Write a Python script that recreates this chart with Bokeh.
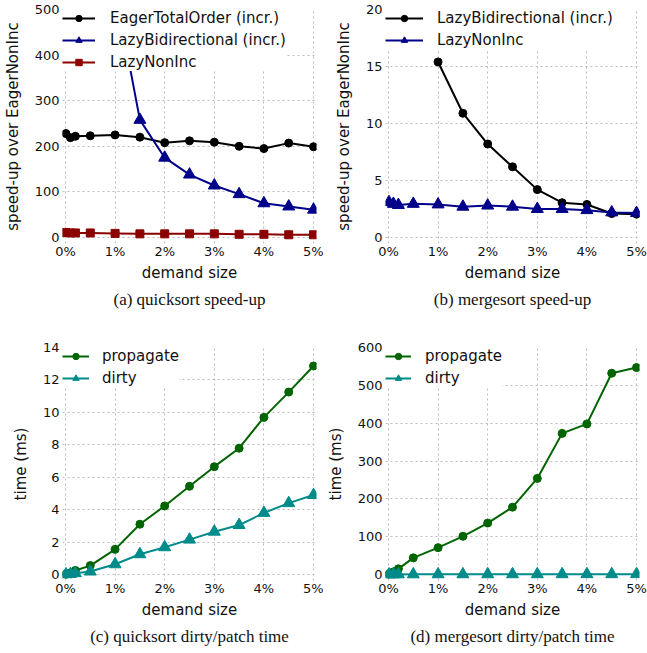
from bokeh.plotting import figure
from bokeh.layouts import gridplot
from bokeh.models import Range1d, FixedTicker, PrintfTickFormatter, Legend, LegendItem, Title
from bokeh.embed import file_html
from bokeh.resources import INLINE

# ---------------- data ----------------
demand_pct = [0.01, 0.1, 0.2, 0.5, 1, 1.5, 2, 2.5, 3, 3.5, 4, 4.5, 5]
demand_pct_from1 = [1, 1.5, 2, 2.5, 3, 3.5, 4, 4.5, 5]

# (a) quicksort speed-up
qs_eager_total_order = [228, 219, 222, 223, 225, 220, 208, 212, 209, 200, 195, 207, 199]
qs_lazy_bidirectional = [545, 258, 175, 138, 114, 95, 75, 68, 61]
qs_lazy_noninc = [11, 10, 10, 10, 9, 8, 8, 8, 8, 7, 7, 6, 6]

# (b) mergesort speed-up
ms_lazy_bidirectional = [15.4, 10.9, 8.2, 6.2, 4.2, 3.05, 2.9, 2.1, 2.05]
ms_lazy_noninc = [3.1, 2.95, 2.85, 2.95, 2.9, 2.7, 2.8, 2.7, 2.5, 2.5, 2.4, 2.2, 2.15]

# (c) quicksort dirty/patch time (ms)
qs_propagate = [0.02, 0.1, 0.25, 0.55, 1.55, 3.1, 4.23, 5.44, 6.65, 7.79, 9.69, 11.25, 12.86]
qs_dirty = [0.01, 0.03, 0.08, 0.18, 0.63, 1.25, 1.68, 2.15, 2.64, 3.05, 3.8, 4.4, 4.9]

# (d) mergesort dirty/patch time (ms)
ms_propagate = [1, 7, 15, 44, 71, 101, 136, 178, 254, 373, 398, 532, 547]
ms_dirty = [0.2, 0.3, 0.3, 0.4, 0.5, 0.5, 0.6, 0.6, 0.7, 0.7, 0.8, 0.8, 0.9]

x_ticks = [0, 1, 2, 3, 4, 5]
captions = ["(a) quicksort speed-up", "(b) mergesort speed-up",
            "(c) quicksort dirty/patch time", "(d) mergesort dirty/patch time"]

SANS = "DejaVu Sans"
SERIF = "Liberation Serif"
BLACK = "#000000"
BLUE = "#00008b"
RED = "#8b0000"
GREEN = "#006400"
TEAL = "#008b8b"

XPAD = 0.06
BOTTOM_PAD_PX = 6
TOP = 9


def make_panel(width, height, left, frame_w, bottom, ymax, yticks, ylabel, caption):
    frame_h = height - TOP - bottom
    ypad = ymax * BOTTOM_PAD_PX / (frame_h - BOTTOM_PAD_PX)
    right = width - left - frame_w
    p = figure(width=width, height=height, output_backend="svg", toolbar_location=None,
               x_range=Range1d(-XPAD, 5 + XPAD), y_range=Range1d(-ypad, ymax),
               min_border_left=left, min_border_right=right, min_border_top=TOP,
               min_border_bottom=bottom)
    p.outline_line_color = None
    p.background_fill_color = "white"
    for ax in (p.xaxis[0], p.yaxis[0]):
        ax.axis_line_color = None
        ax.major_tick_line_color = None
        ax.minor_tick_line_color = None
        ax.major_tick_in = 0
        ax.major_tick_out = 0
        ax.minor_tick_in = 0
        ax.minor_tick_out = 0
        ax.major_label_text_font = SANS
        ax.major_label_text_font_size = "13px"
        ax.major_label_text_color = "#111111"
        ax.axis_label_text_font = SANS
        ax.axis_label_text_font_size = "15px"
        ax.axis_label_text_font_style = "normal"
        ax.axis_label_text_color = "#111111"
    p.xaxis.ticker = FixedTicker(ticks=x_ticks)
    p.xaxis.formatter = PrintfTickFormatter(format="%d%%")
    p.xaxis.axis_label = "demand size"
    p.xaxis.major_label_standoff = 0
    p.xaxis.axis_label_standoff = 2
    p.yaxis.ticker = FixedTicker(ticks=yticks)
    p.yaxis.axis_label = ylabel
    p.yaxis.major_label_standoff = 3
    p.yaxis.axis_label_standoff = 10
    p.xgrid.ticker = FixedTicker(ticks=x_ticks)
    p.ygrid.ticker = FixedTicker(ticks=yticks)
    for g in (p.xgrid[0], p.ygrid[0]):
        g.grid_line_color = "#bbbbbb"
        g.grid_line_dash = "2 3"
        g.grid_line_width = 1
    t = Title(text=caption, align="center", text_font=SERIF, text_font_size="17px",
              text_font_style="normal", text_color="#111111", standoff=7)
    p.add_layout(t, "below")
    return p


def series(p, x, y, color, marker, size, label, items):
    l = p.line(x, y, line_color=color, line_width=2)
    s = p.scatter(x, y, marker=marker, size=size, fill_color=color, line_color=color)
    items.append(LegendItem(label=label, renderers=[l, s]))


def add_legend(p, items, padding, glyph_w, standoff):
    lg = Legend(items=items, location="top_left", border_line_color=None,
                background_fill_color="#ffffff", background_fill_alpha=1.0,
                label_text_font=SANS, label_text_font_size="15px",
                label_text_color="#111111",
                glyph_width=glyph_w, glyph_height=16, label_height=16,
                label_standoff=standoff, spacing=4, padding=padding, margin=0)
    p.add_layout(lg)


H1, H2 = 338, 312
W1, W2 = 323, 324

pa = make_panel(W1, H1, 60, 256, 95, 500, [0, 100, 200, 300, 400, 500],
                "speed-up over EagerNonInc", captions[0])
items = []
series(pa, demand_pct, qs_eager_total_order, BLACK, "circle", 8, "EagerTotalOrder (incr.)", items)
series(pa, demand_pct_from1, qs_lazy_bidirectional, BLUE, "triangle", 12, "LazyBidirectional (incr.)", items)
series(pa, demand_pct, qs_lazy_noninc, RED, "square", 8, "LazyNonInc", items)
add_legend(pa, items, 14, 33, 15)

pb = make_panel(W2, H1, 52, 264, 95, 20, [0, 5, 10, 15, 20],
                "speed-up over EagerNonInc", captions[1])
items = []
series(pb, demand_pct_from1, ms_lazy_bidirectional, BLACK, "circle", 8, "LazyBidirectional (incr.)", items)
series(pb, demand_pct, ms_lazy_noninc, BLUE, "triangle", 12, "LazyNonInc", items)
add_legend(pb, items, 14, 38, 14)

pc = make_panel(W1, H2, 50, 266, 70, 14, [0, 2, 4, 6, 8, 10, 12, 14], "time (ms)", captions[2])
items = []
series(pc, demand_pct, qs_propagate, GREEN, "circle", 8, "propagate", items)
series(pc, demand_pct, qs_dirty, TEAL, "triangle", 12, "dirty", items)
add_legend(pc, items, 20, 27, 13)

pd_ = make_panel(W2, H2, 58, 258, 70, 600, [0, 100, 200, 300, 400, 500, 600], "time (ms)", captions[3])
items = []
series(pd_, demand_pct, ms_propagate, GREEN, "circle", 8, "propagate", items)
series(pd_, demand_pct, ms_dirty, TEAL, "triangle", 12, "dirty", items)
add_legend(pd_, items, 20, 26, 14)

grid = gridplot([[pa, pb], [pc, pd_]], toolbar_location=None)

open("out.html", "w").write(file_html(grid, INLINE))
